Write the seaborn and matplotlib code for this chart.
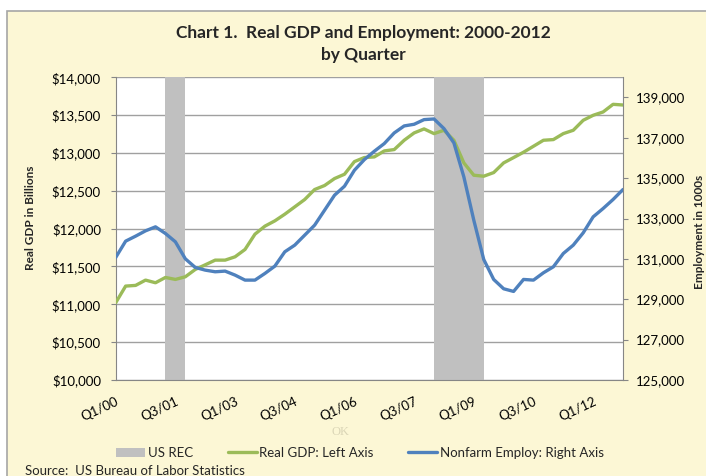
import matplotlib
matplotlib.use("Agg")
import matplotlib.pyplot as plt
import seaborn as sns
import pandas as pd
from matplotlib.patches import Rectangle, Patch
from matplotlib.lines import Line2D
from matplotlib.ticker import FuncFormatter
from matplotlib.transforms import ScaledTranslation

# ---------------- data ----------------
quarters = [
    "Q1/00", "Q2/00", "Q3/00", "Q4/00", "Q1/01", "Q2/01", "Q3/01", "Q4/01",
    "Q1/02", "Q2/02", "Q3/02", "Q4/02", "Q1/03", "Q2/03", "Q3/03", "Q4/03",
    "Q1/04", "Q2/04", "Q3/04", "Q4/04", "Q1/05", "Q2/05", "Q3/05", "Q4/05",
    "Q1/06", "Q2/06", "Q3/06", "Q4/06", "Q1/07", "Q2/07", "Q3/07", "Q4/07",
    "Q1/08", "Q2/08", "Q3/08", "Q4/08", "Q1/09", "Q2/09", "Q3/09", "Q4/09",
    "Q1/10", "Q2/10", "Q3/10", "Q4/10", "Q1/11", "Q2/11", "Q3/11", "Q4/11",
    "Q1/12", "Q2/12", "Q3/12", "Q4/12",
]
real_gdp = [
    11021, 11241, 11250, 11320, 11285, 11355, 11329, 11364,
    11461, 11522, 11584, 11584, 11628, 11725, 11927, 12033,
    12103, 12191, 12288, 12385, 12517, 12570, 12662, 12719,
    12886, 12940, 12948, 13027, 13045, 13168, 13265, 13318,
    13256, 13300, 13168, 12869, 12706, 12693, 12741, 12869,
    12939, 13010, 13089, 13168, 13177, 13256, 13300, 13432,
    13498, 13542, 13643, 13634,
]
nonfarm_employ = [
    131072, 131881, 132128, 132392, 132590, 132260, 131848, 131006,
    130577, 130445, 130363, 130396, 130198, 129950, 129950, 130280,
    130643, 131353, 131683, 132178, 132673, 133415, 134158, 134603,
    135395, 135923, 136336, 136716, 137243, 137590, 137672, 137903,
    137936, 137458, 136749, 135065, 132920, 130973, 129983, 129521,
    129389, 129983, 129950, 130313, 130610, 131270, 131683, 132293,
    133085, 133498, 133944, 134439,
]
tick_labels = ["Q1/00", "Q3/01", "Q1/03", "Q3/04", "Q1/06", "Q3/07", "Q1/09", "Q3/10", "Q1/12"]
rec_start = ["Q2/01", "Q1/08"]
rec_end = ["Q4/01", "Q2/09"]
gdp_ticks = [10000, 10500, 11000, 11500, 12000, 12500, 13000, 13500, 14000]
emp_ticks = [125000, 127000, 129000, 131000, 133000, 135000, 137000, 139000]

df = pd.DataFrame({"quarter": quarters, "gdp": real_gdp, "emp": nonfarm_employ})
df["pos"] = range(len(df))

# ---------------- style ----------------
sns.set_style("white")
plt.rcParams["font.family"] = ["Lato", "DejaVu Sans"]

W, H = 706, 476
GREEN = "#9BBB59"
BLUE = "#4F81BD"
RECG = "#C0C0C0"
GRID = "#A0A0A0"
AXC = "#868686"
BG = "#FCF7D5"

fig = plt.figure(figsize=(W / 100, H / 100), dpi=100, facecolor="white")
fig.patches.append(Rectangle((6.5 / W, -0.05), 1.2, 1 - 10.5 / H + 0.05,
                             transform=fig.transFigure, facecolor=BG,
                             edgecolor="#A6A6A6", lw=1.2, zorder=-10))

ax = fig.add_axes([115.7 / W, 1 - 380 / H, (623 - 115.7) / W, (380 - 77.3) / H])
ax.set_facecolor("white")
ax.set_axisbelow(True)

# recession bands
for s, e in zip(rec_start, rec_end):
    ax.axvspan(quarters.index(s), quarters.index(e), color=RECG, lw=0, zorder=1.5)

sns.lineplot(data=df, x="pos", y="gdp", ax=ax, color=GREEN, lw=2.4, zorder=3)
ax2 = ax.twinx()
sns.lineplot(data=df, x="pos", y="emp", ax=ax2, color=BLUE, lw=2.4, zorder=3)

ax.set_xlim(0, len(quarters) - 1)
ax.set_ylim(gdp_ticks[0], gdp_ticks[-1])
ax2.set_ylim(125000, 140000)

ax.set_yticks(gdp_ticks)
ax.yaxis.set_major_formatter(FuncFormatter(lambda v, p: f"${v:,.0f}"))
ax2.set_yticks(emp_ticks)
ax2.yaxis.set_major_formatter(FuncFormatter(lambda v, p: f"{v:,.0f}"))

ax.set_xticks(list(df["pos"]))
ax.set_xticklabels([q if q in tick_labels else "" for q in quarters],
                   rotation=25, ha="right", va="top", rotation_mode="anchor")
shift = ScaledTranslation(6 / 100, 0, fig.dpi_scale_trans)
for lbl in ax.get_xticklabels():
    lbl.set_transform(lbl.get_transform() + shift)

ax.grid(axis="y", color=GRID, lw=1.0)
ax.grid(axis="x", visible=False)

for a in (ax, ax2):
    for sp in a.spines.values():
        sp.set_visible(False)
ax.spines["left"].set_visible(True)
ax.spines["left"].set_color(AXC)
ax.spines["bottom"].set_visible(True)
ax.spines["bottom"].set_color(AXC)
ax2.spines["right"].set_visible(True)
ax2.spines["right"].set_color(AXC)

ax.tick_params(axis="x", direction="in", length=4, color=AXC, pad=11,
               labelsize=9.5, labelcolor="black")
ax.tick_params(axis="y", direction="out", length=3.6, color=AXC, pad=7,
               labelsize=9.5, labelcolor="black")
ax2.tick_params(axis="y", direction="out", length=3.6, color=AXC, pad=6,
                labelsize=9.5, labelcolor="black")

ax.set_xlabel("")
ax.set_ylabel("Real GDP in Billions", fontsize=8.5, fontweight="bold")
ax.yaxis.set_label_coords((36 - 115.7) / 507.3, (380 - 218) / 302.7)
ax2.set_ylabel("Employment in 1000s", fontsize=8.5, fontweight="bold",
               rotation=90)
ax2.yaxis.set_label_coords((694 - 115.7) / 507.3, (380 - 232) / 302.7)

# titles
fig.text(363 / W, 1 - 32.7 / H, "Chart 1.  Real GDP and Employment: 2000-2012",
         ha="center", va="center", fontsize=12.5, fontweight="bold")
fig.text(363 / W, 1 - 55 / H, "by Quarter",
         ha="center", va="center", fontsize=12.5, fontweight="bold")

fig.text(340 / W, 1 - 432 / H, "OK", ha="center", va="center", fontsize=9,
         color="#DAD5B6", family=["Liberation Serif", "DejaVu Serif"])

handles = [Patch(facecolor=RECG, edgecolor="none"),
           Line2D([], [], color=GREEN, lw=2.4),
           Line2D([], [], color=BLUE, lw=2.4)]
fig.legend(handles, ["US REC", "Real GDP: Left Axis", "Nonfarm Employ: Right Axis"],
           loc="center", bbox_to_anchor=(360 / W, 1 - 453 / H), ncol=3,
           frameon=False, fontsize=9.5, handlelength=2.2, handleheight=0.7,
           handletextpad=0.2, columnspacing=2.6)

fig.text(25 / W, 1 - 471 / H, "Source:  US Bureau of Labor Statistics",
         ha="left", va="center", fontsize=9.5)

fig.savefig("out.png", dpi=100, facecolor=fig.get_facecolor())
